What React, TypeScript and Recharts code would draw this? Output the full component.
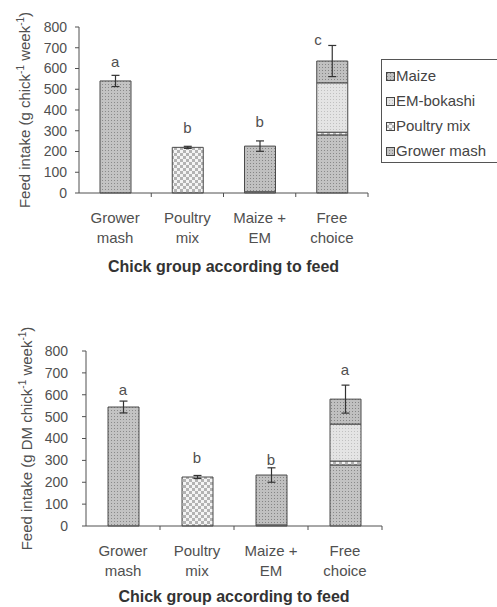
import React from 'react';
import { BarChart, Bar, XAxis, YAxis, ErrorBar, ReferenceDot, Legend } from 'recharts';

const categories = ['Grower mash', 'Poultry mix', 'Maize + EM', 'Free choice'];
const tickLines = [['Grower', 'mash'], ['Poultry', 'mix'], ['Maize +', 'EM'], ['Free', 'choice']];
const yTicks = [0, 100, 200, 300, 400, 500, 600, 700, 800];

// upper panel: feed intake (g chick-1 week-1)
const growerMashA = [540, 0, 0, 280];
const poultryMixA = [0, 220, 0, 13];
const emBokashiA = [0, 0, 6, 238];
const maizeA = [0, 0, 220, 105];
const errA = [27, 5, 25, 75];
const lettersA = ['a', 'b', 'b', 'c'];
const letterAtA = [631, 313, 342, 737];

// lower panel: feed intake (g DM chick-1 week-1)
const growerMashB = [544, 0, 0, 279];
const poultryMixB = [0, 224, 0, 18];
const emBokashiB = [0, 0, 5, 169];
const maizeB = [0, 0, 228, 114];
const errB = [27, 7, 33, 64];
const lettersB = ['a', 'b', 'b', 'a'];
const letterAtB = [622, 311, 302, 713];

// stack order, bottom to top
const series = [
  { key: 'gm', name: 'Grower mash', fill: 'url(#patGM)' },
  { key: 'pm', name: 'Poultry mix', fill: 'url(#patPM)' },
  { key: 'em', name: 'EM-bokashi', fill: 'url(#patEM)' },
  { key: 'mz', name: 'Maize', fill: 'url(#patMZ)' },
];

const FONT = '"Liberation Sans", Arial, sans-serif';
const INK = '#505050';

function buildRows(gm: number[], pm: number[], em: number[], mz: number[], err: number[]) {
  return categories.map((name, i) => {
    const vals: Record<string, number> = { gm: gm[i], pm: pm[i], em: em[i], mz: mz[i] };
    const topKey = [...series].reverse().find((s) => vals[s.key] > 0)?.key;
    const row: any = { name, ...vals };
    series.forEach((s) => {
      row[s.key + 'Err'] = s.key === topKey ? err[i] : null;
    });
    return row;
  });
}

const rowsA = buildRows(growerMashA, poultryMixA, emBokashiA, maizeA, errA);
const rowsB = buildRows(growerMashB, poultryMixB, emBokashiB, maizeB, errB);

const Patterns = () => (
  <svg width={0} height={0} style={{ position: 'absolute' }}>
    <defs>
      <pattern id="patGM" width={3} height={3} patternUnits="userSpaceOnUse">
        <rect width={3} height={3} fill="#c3c3c3" />
        <rect width={1} height={1} fill="#8a8a8a" />
      </pattern>
      <pattern id="patMZ" width={3} height={3} patternUnits="userSpaceOnUse">
        <rect width={3} height={3} fill="#c0c0c0" />
        <rect x={1} y={1} width={1} height={1} fill="#858585" />
      </pattern>
      <pattern id="patEM" width={3} height={3} patternUnits="userSpaceOnUse">
        <rect width={3} height={3} fill="#e4e4e4" />
        <rect width={1} height={1} fill="#c0c0c0" />
      </pattern>
      <pattern id="patPM" width={6} height={6} patternUnits="userSpaceOnUse">
        <rect width={6} height={6} fill="#b3b3b3" />
        <rect width={3} height={3} fill="#f4f4f4" />
        <rect x={3} y={3} width={3} height={3} fill="#f4f4f4" />
      </pattern>
    </defs>
  </svg>
);

const LegendBox = () => {
  const items = [...series].reverse();
  return (
    <div
      style={{
        border: '1px solid #555',
        padding: '3px 0 3px 4px',
        fontFamily: FONT,
        fontSize: 15,
        color: '#444',
        background: '#fff',
        boxSizing: 'border-box',
        width: 140,
        height: 104,
      }}
    >
      {items.map((s) => (
        <div key={s.key} style={{ height: 25, lineHeight: '25px', whiteSpace: 'nowrap' }}>
          <svg width={9} height={9} style={{ marginRight: 1 }}>
            <rect x={0.5} y={0.5} width={8} height={8} fill={s.fill} stroke="#444" />
          </svg>
          {s.name}
        </div>
      ))}
    </div>
  );
};

interface PanelProps {
  rows: any[];
  letters: string[];
  letterAt: number[];
  unit: string;
  top: number;
  height: number;
  margin: { top: number; right: number; bottom: number; left: number };
  xAxisHeight: number;
  yTickMargin: number;
  yLabelX: number;
  titleOffset: number;
  letterShift: number[];
  showLegend?: boolean;
}

const Panel = (p: PanelProps) => {
  const width = 497;
  const yAxisWidth = 60;
  const plotWidth = width - p.margin.left - p.margin.right - yAxisWidth;
  const band = plotWidth / categories.length;

  const CatTick = (props: any) => {
    const { x, y, payload } = props;
    const i = categories.indexOf(payload.value);
    const lines = tickLines[i] || [payload.value];
    return (
      <g>
        <line x1={x + band / 2} x2={x + band / 2} y1={y} y2={y + 4} stroke={INK} />
        <text textAnchor="middle" fontSize={15} fill={INK} fontFamily={FONT}>
          <tspan x={x} y={y + 30}>{lines[0]}</tspan>
          <tspan x={x} y={y + 50}>{lines[1]}</tspan>
        </text>
      </g>
    );
  };

  const yLabel = (props: any) => {
    const vb = props.viewBox || {};
    const cy = vb.y + vb.height / 2;
    const bx = p.yLabelX + 5;
    return (
      <text
        transform={`rotate(-90, ${bx}, ${cy})`}
        x={bx}
        y={cy}
        textAnchor="middle"
        fontSize={15}
        fill={INK}
        fontFamily={FONT}
      >
        <tspan>{`Feed intake (g ${p.unit}chick`}</tspan>
        <tspan fontSize={10} dy={-6}>-1</tspan>
        <tspan dy={6}> week</tspan>
        <tspan fontSize={10} dy={-6}>-1</tspan>
        <tspan dy={6}>)</tspan>
      </text>
    );
  };

  const xTitle = (props: any) => {
    const vb = props.viewBox || {};
    return (
      <text
        x={vb.x + vb.width / 2}
        y={vb.y + p.titleOffset}
        textAnchor="middle"
        fontSize={16}
        fontWeight="bold"
        fill="#333"
        fontFamily={FONT}
      >
        Chick group according to feed
      </text>
    );
  };

  return (
    <div style={{ position: 'absolute', left: 0, top: p.top }}>
      <BarChart width={width} height={p.height} data={p.rows} margin={p.margin} barSize={31}>
        <XAxis
          dataKey="name"
          height={p.xAxisHeight}
          interval={0}
          tickSize={0}
          tickMargin={0}
          tick={<CatTick />}
          axisLine={{ stroke: INK }}
          label={xTitle}
        />
        <XAxis
          xAxisId="frame"
          orientation="top"
          dataKey="name"
          height={0}
          tick={false}
          tickLine={false}
          axisLine={{ stroke: '#a8a8a8' }}
        />
        <YAxis
          width={yAxisWidth}
          domain={[0, 800]}
          ticks={yTicks}
          interval={0}
          tickSize={4}
          tickMargin={p.yTickMargin}
          tick={{ fontSize: 14, fill: INK, fontFamily: FONT }}
          tickLine={{ stroke: INK }}
          axisLine={{ stroke: INK }}
          label={yLabel}
        />
        <YAxis
          yAxisId="frame"
          orientation="right"
          width={0}
          domain={[0, 800]}
          tick={false}
          tickLine={false}
          axisLine={{ stroke: '#a8a8a8' }}
        />
        {series.map((s) => (
          <Bar
            key={s.key}
            dataKey={s.key}
            name={s.name}
            stackId="feed"
            fill={s.fill}
            stroke="#4a4a4a"
            strokeWidth={1}
            isAnimationActive={false}
          >
            <ErrorBar dataKey={s.key + 'Err'} width={4} stroke="#333" strokeWidth={1.2} />
          </Bar>
        ))}
        {categories.map((c, i) => (
          <ReferenceDot
            key={c}
            x={c}
            y={p.letterAt[i]}
            r={0}
            fill="none"
            stroke="none"
            label={(lp: any) => {
              const vb = lp.viewBox || {};
              return (
                <text
                  x={vb.x + p.letterShift[i]}
                  y={vb.y + 5}
                  textAnchor="middle"
                  fontSize={15}
                  fill={INK}
                  fontFamily={FONT}
                >
                  {p.letters[i]}
                </text>
              );
            }}
          />
        ))}
        {p.showLegend && (
          <Legend
            layout="horizontal"
            verticalAlign="middle"
            align="center"
            content={<LegendBox />}
            wrapperStyle={{ left: 381, top: 59, width: 140, height: 104 }}
          />
        )}
      </BarChart>
    </div>
  );
}

export default function App() {
  return (
    <div
      style={{
        position: 'absolute',
        left: 0,
        top: 0,
        width: 497,
        height: 607,
        overflow: 'hidden',
        background: '#fff',
      }}
    >
      <Patterns />
      <Panel
        rows={rowsA}
        letters={lettersA}
        letterAt={letterAtA}
        unit=""
        top={0}
        height={290}
        margin={{ top: 27, right: 129, bottom: 7, left: 19 }}
        xAxisHeight={90}
        yTickMargin={8}
        yLabelX={25}
        titleOffset={79}
        letterShift={[0, 0, 0, -14]}
        showLegend
      />
      <Panel
        rows={rowsB}
        letters={lettersB}
        letterAt={letterAtB}
        unit="DM "
        top={305}
        height={302}
        margin={{ top: 46, right: 115, bottom: 3, left: 26 }}
        xAxisHeight={78}
        yTickMargin={14}
        yLabelX={27}
        titleOffset={76}
        letterShift={[0, 0, 0, 0]}
      />
    </div>
  );
}
